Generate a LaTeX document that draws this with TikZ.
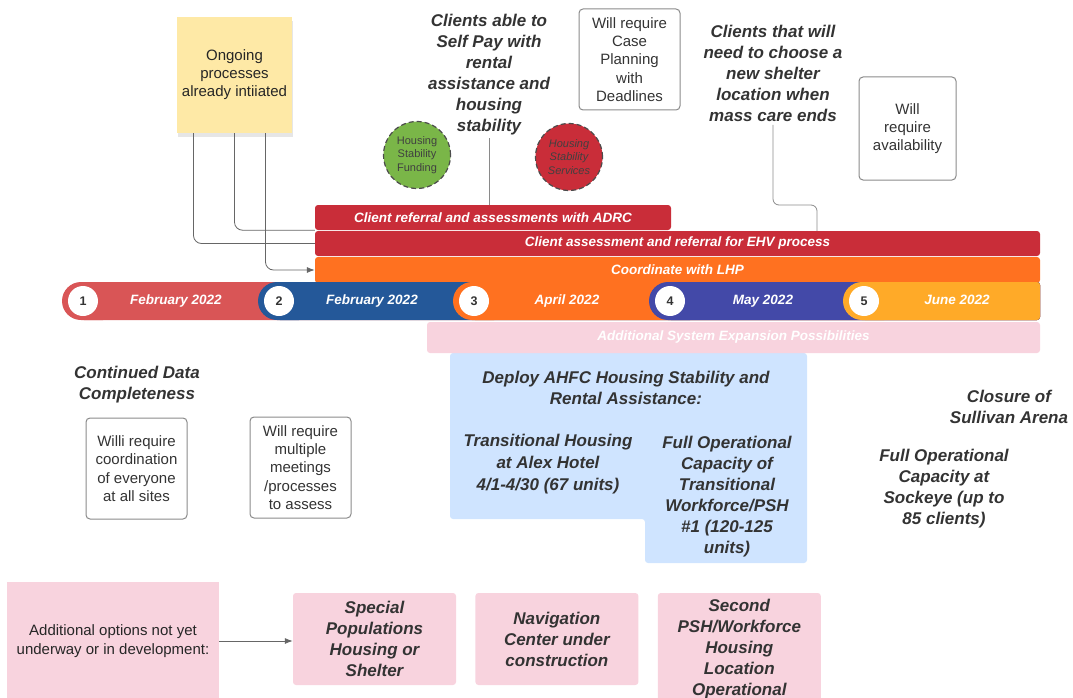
\documentclass[tikz,border=0pt]{standalone}
\usepackage{fontspec}
\setmainfont{Liberation Sans}
\usetikzlibrary{positioning}
\usetikzlibrary{shadows}
\usetikzlibrary{arrows.meta}

\definecolor{sticky}{HTML}{FEE9A6}
\definecolor{adrcred}{HTML}{C92D39}
\definecolor{lhporange}{HTML}{FF7120}
\definecolor{febred}{HTML}{D95556}
\definecolor{febblue}{HTML}{245899}
\definecolor{mayblue}{HTML}{4349A8}
\definecolor{junegold}{HTML}{FFAA28}
\definecolor{expink}{HTML}{F8D3DE}
\definecolor{deployblue}{HTML}{CFE4FF}
\definecolor{fundgreen}{HTML}{7AB648}
\definecolor{txt}{HTML}{333333}
\definecolor{rim}{HTML}{8A8A8A}

\begin{document}
\begin{tikzpicture}[
    x=1pt, y=-1pt,
    node distance=19pt,
    bar/.style={rectangle,rounded corners=3pt,text=white,inner sep=0pt,font=\fontsize{13.5}{16}\selectfont\bfseries\itshape},
    head/.style={align=center,text=txt,font=\fontsize{17}{21}\selectfont\bfseries\itshape},
    note/.style={rectangle,rounded corners=4pt,draw=rim,line width=1pt,align=center,text=txt,minimum width=101pt,minimum height=101pt,inner sep=0pt,font=\fontsize{15}{18.3}\selectfont},
    blob/.style={circle,draw=black!70,line width=1.2pt,dash pattern=on 5pt off 3pt,minimum size=67pt,inner sep=0pt,align=center,font=\fontsize{11}{13.5}\selectfont},
    opt/.style={rectangle,rounded corners=3pt,fill=expink,minimum width=163pt,minimum height=92pt,inner sep=0pt},
    num/.style={circle,fill=white,minimum size=30pt,inner sep=0pt,text=txt,font=\fontsize{12.5}{14}\selectfont\bfseries},
    mon/.style={text=white,text height=10pt,text depth=3pt,font=\fontsize{13.5}{16}\selectfont\bfseries\itshape},
    conn/.style={draw=black!60,line width=0.8pt,rounded corners=8pt},
    arr/.style={conn,-{Latex[length=8pt,width=6pt]}}
    ]
    \useasboundingbox (0,0) rectangle (1073,698);

    % top notes
    \node (ongoing) [rectangle,fill=sticky,minimum width=115pt,minimum height=116pt,align=center,text=black!85,
        font=\fontsize{15}{18}\selectfont,drop shadow={opacity=0.2,shadow xshift=1pt,shadow yshift=-4pt}]
        at (234.5,75) {Ongoing\\processes\\already intiiated};
    \node (selfpay) [head] at (489,74.5) {Clients able to\\Self Pay with\\rental\\assistance and\\housing\\stability};
    \node (caseplan) [note] at (629.5,59.5) {Will require\\Case\\Planning\\with\\Deadlines};
    \node (shelter) [head] at (773,73) {Clients that will\\need to choose a\\new shelter\\location when\\mass care ends};
    \node (avail) [note,minimum width=97pt,minimum height=103pt] at (907.5,128.5) {Will\\require\\availability};
    \node (fund) [blob,fill=fundgreen,text=black!75] at (417,155) {Housing\\Stability\\Funding};
    \node (serv) [blob,fill=adrcred,text=black!75,font=\fontsize{11}{13.5}\selectfont\itshape] at (569,157) {Housing\\Stability\\Services};

    % process bars
    \node (adrc) [bar,fill=adrcred,minimum width=356pt,minimum height=25pt] at (493,217.5) {Client referral and assessments with ADRC};
    \node (ehv) [bar,fill=adrcred,minimum width=725pt,minimum height=25pt] at (677.5,243.5) {Client assessment and referral for EHV process};
    \node (lhp) [bar,fill=lhporange,minimum width=725pt,minimum height=26pt] at (677.5,270) {Coordinate with LHP};

    % timeline
    \foreach \x/\c/\i/\t in {62/febred/1/February 2022, 258/febblue/2/February 2022, 453/lhporange/3/April 2022,
                            649/mayblue/4/May 2022, 843/junegold/5/June 2022} {
        \fill[\c,rounded corners=19pt] (\x,282) rectangle (\x+60,320);
        \fill[\c,rounded corners=3pt] (\x+19,282) rectangle (1040,320);
        \node (n\i) [num] at (\x+21,301) {\i};
        \node (m\i) [mon] at (\x+114,300.5) {\t};
    }

    \fill[deployblue,rounded corners=3pt] (450,353) -- (807,353) -- (807,563) -- (645,563) -- (645,519) -- (450,519) -- cycle;
    \node (expand) [bar,fill=expink,minimum width=613pt,minimum height=31pt] at (733.5,337.5) {Additional System Expansion Possibilities};

    % milestones
    \node (deploy) [head] at (626,387.5) {Deploy AHFC Housing Stability and\\Rental Assistance:};
    \node (alex) [head,font=\fontsize{17}{22}\selectfont\bfseries\itshape] at (548,464) {Transitional Housing\\at Alex Hotel\\4/1-4/30 (67 units)};
    \node (fullop) [head] at (727,496.5) {Full Operational\\Capacity of\\Transitional\\Workforce/PSH\\\#1 (120-125\\units)};
    \node (data) [head] at (137,384.5) {Continued Data\\Completeness};
    \node (coord) [note] at (136.5,468.5) {Willi require\\coordination\\of everyone\\at all sites};
    \node (meet) [note] at (300.5,467.5) {Will require\\multiple\\meetings\\/processes\\to assess};
    \node (closure) [head] at (1009,406.5) {Closure of\\Sullivan Arena};
    \node (sockeye) [head] at (944,488.5) {Full Operational\\Capacity at\\Sockeye (up to\\85 clients)};

    % other options
    \node (addopt) [rectangle,fill=expink,minimum width=212pt,minimum height=118pt,align=center,text=black!85,
        font=\fontsize{15}{19}\selectfont] at (113,641) {Additional options not yet\\underway or in development:};
    \node (special) [opt,head] at (374.5,639) {Special\\Populations\\Housing or\\Shelter};
    \node (nav) [opt,head,right=of special] {Navigation\\Center under\\construction};
    \node (second) [opt,head,minimum height=112pt,right=of nav.north east,anchor=north west] {Second\\PSH/Workforce\\Housing\\Location\\Operational};

    % connectors
    \draw[conn] ([xshift=-41pt]ongoing.south) |- (ehv.west);
    \draw[conn] (ongoing.south) |- (adrc.south west);
    \draw[arr] ([xshift=31pt]ongoing.south) |- (lhp.west);
    \draw[conn,draw=rim] (selfpay.south) -- (selfpay.south |- adrc.north);
    \coordinate (bend) at (817,205);
    \draw[conn,draw=rim,rounded corners=6pt] (shelter.south) |- (bend) -- (bend |- ehv.north);
    \draw[arr] (addopt.east) -- (addopt.east -| special.west);
\end{tikzpicture}
\end{document}
